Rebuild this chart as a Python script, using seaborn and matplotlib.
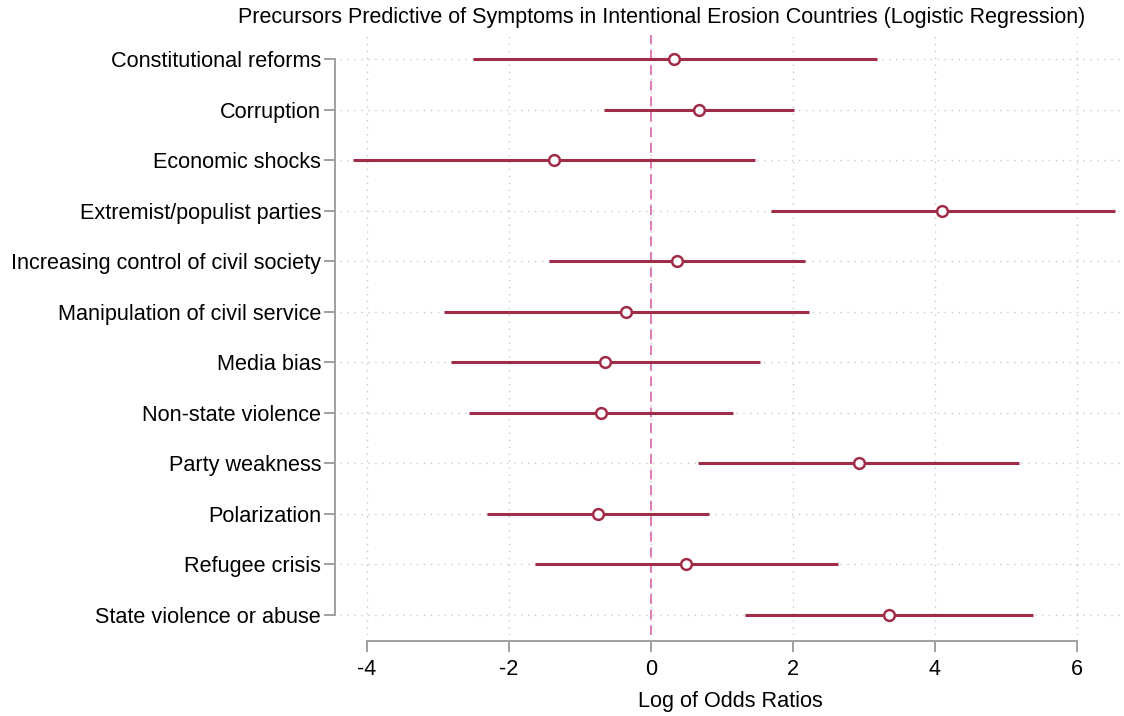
import numpy as np
import pandas as pd
import matplotlib
matplotlib.use("Agg")
import matplotlib.pyplot as plt
import seaborn as sns

# Logistic-regression coefficients (log odds ratios) with 95% confidence bounds
precursors = [
    "Constitutional reforms",
    "Corruption",
    "Economic shocks",
    "Extremist/populist parties",
    "Increasing control of civil society",
    "Manipulation of civil service",
    "Media bias",
    "Non-state violence",
    "Party weakness",
    "Polarization",
    "Refugee crisis",
    "State violence or abuse",
]
estimate = [0.33, 0.68, -1.37, 4.10, 0.37, -0.35, -0.65, -0.70, 2.93, -0.74, 0.50, 3.36]
ci_low = [-2.50, -0.66, -4.20, 1.69, -1.44, -2.92, -2.81, -2.56, 0.67, -2.31, -1.63, 1.33]
ci_high = [3.18, 2.02, 1.46, 6.54, 2.17, 2.23, 1.54, 1.16, 5.19, 0.82, 2.63, 5.38]
x_ticks = [-4, -2, 0, 2, 4, 6]

df = pd.DataFrame({
    "precursor": precursors,
    "pos": np.arange(len(precursors)),
    "estimate": estimate,
    "lo": ci_low,
    "hi": ci_high,
})

sns.set_theme(style="white")
plt.rcParams["font.family"] = ["Liberation Sans", "DejaVu Sans"]
plt.rcParams["text.color"] = "black"
plt.rcParams["axes.labelcolor"] = "black"

RED = "#A02C47"
GRID = "#C8C8C8"
SPINE = "#A0A0A0"

fig = plt.figure(figsize=(11.24, 7.16), dpi=100)
ax = fig.add_axes([0.3025, 0.1131, 0.694, 0.838])

# dotted reference grid
for xt in x_ticks:
    ax.axvline(xt, color=GRID, lw=1.0, ls=(0, (1, 4)), zorder=0)
for p in df["pos"]:
    ax.axhline(p, color=GRID, lw=1.0, ls=(0, (1, 4)), zorder=0)

# zero reference line
ax.axvline(0, color="#E07AB4", lw=1.4, ls=(0, (5, 3)), zorder=1)

# confidence intervals
ax.hlines(df["pos"], df["lo"], df["hi"], color=RED, lw=2.2, zorder=2)

# point estimates
sns.scatterplot(data=df, x="estimate", y="pos", ax=ax, marker="o", s=60,
                facecolor="white", edgecolor=RED, linewidth=1.8, zorder=3,
                legend=False)

ax.set_xlim(-4.38, 6.61)
ax.set_ylim(11.4, -0.48)
ax.set_xticks(x_ticks)
ax.set_xticklabels([str(t) for t in x_ticks])
ax.set_yticks(df["pos"])
ax.set_yticklabels(precursors)

for side in ["top", "right"]:
    ax.spines[side].set_visible(False)
ax.spines["left"].set_position(("outward", 3.6))
ax.spines["bottom"].set_position(("outward", 4.3))
ax.spines["left"].set_bounds(0, len(precursors) - 1)
ax.spines["bottom"].set_bounds(-4, 6)
for side in ["left", "bottom"]:
    ax.spines[side].set_color(SPINE)
    ax.spines[side].set_linewidth(1.4)

ax.tick_params(axis="both", which="major", length=8, width=1.4, color=SPINE,
               labelsize=15.6, labelcolor="black", pad=2, left=True, bottom=True)
ax.tick_params(axis="x", pad=5)

ax.set_xlabel("Log of Odds Ratios", fontsize=15.6, labelpad=8, color="black")
ax.set_ylabel("")

fig.text(662 / 1124, 1 - 18 / 716,
         "Precursors Predictive of Symptoms in Intentional Erosion Countries (Logistic Regression)",
         ha="center", va="center", fontsize=15.5, color="black")

fig.savefig("out.png", dpi=100)
